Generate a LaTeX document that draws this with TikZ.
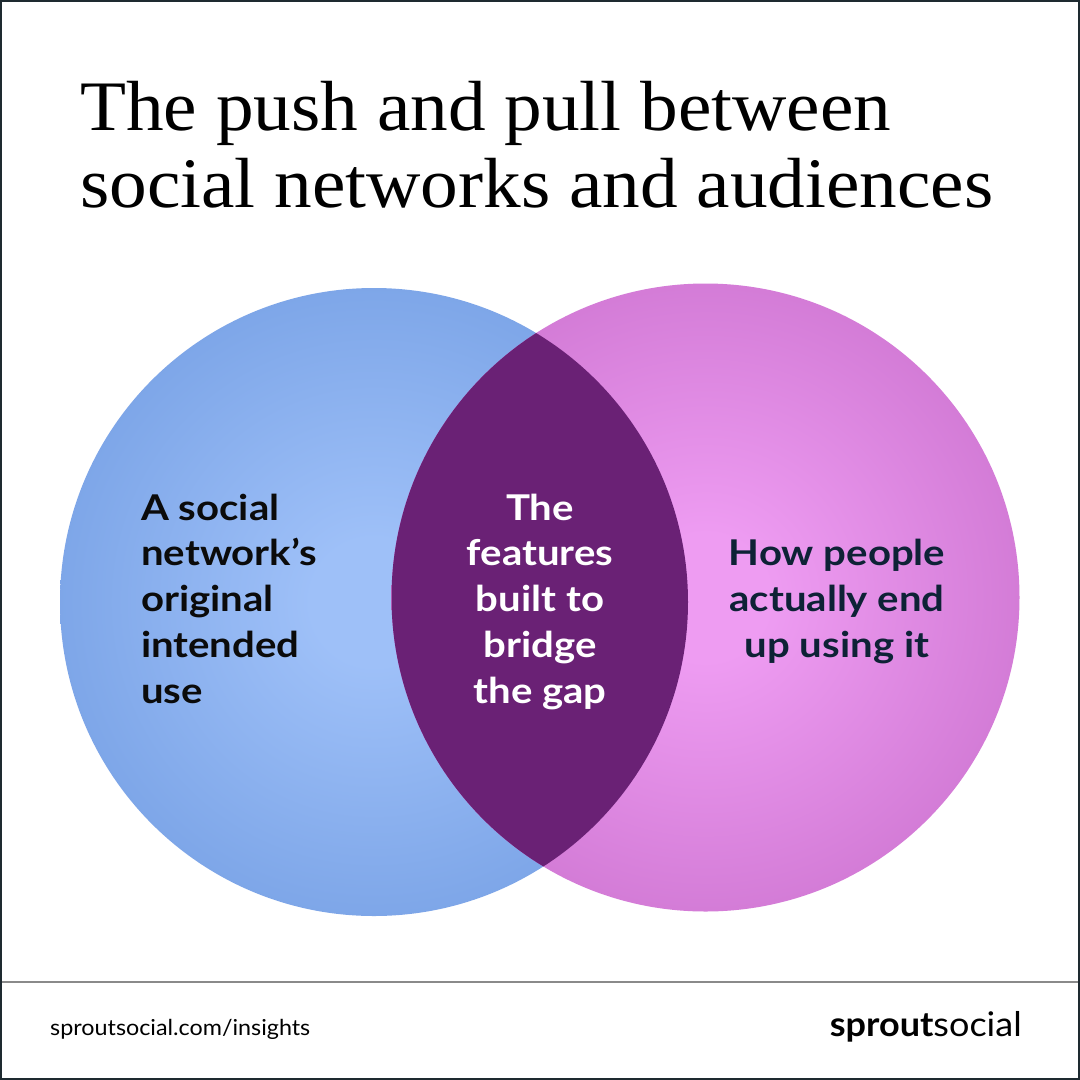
\documentclass[tikz,border=0pt]{standalone}
\usepackage{fontspec}
\setmainfont{Liberation Serif}
\newfontfamily\bodyf{Lato}
\definecolor{framec}{HTML}{1E2A30}
\definecolor{sepc}{HTML}{8A8A8A}
\definecolor{bluein}{HTML}{9EC0F8}
\definecolor{blueout}{HTML}{719CE2}
\definecolor{pinkin}{HTML}{EE9CF2}
\definecolor{pinkout}{HTML}{C96FCC}
\definecolor{midc}{HTML}{6A2175}
\definecolor{darktxt}{HTML}{0B0B0B}
\definecolor{navytxt}{HTML}{0E2236}
\pgfdeclareradialshading{blueball}{\pgfpoint{0bp}{0bp}}{color(0bp)=(bluein); color(5bp)=(bluein); color(33bp)=(blueout); color(100bp)=(blueout)}
\pgfdeclareradialshading{pinkball}{\pgfpoint{0bp}{0bp}}{color(0bp)=(pinkin); color(5bp)=(pinkin); color(33bp)=(pinkout); color(100bp)=(pinkout)}
\tikzset{
  titletxt/.style={font=\fontsize{71}{77}\selectfont, anchor=base west, inner sep=0pt, xscale=1.06, transform shape},
  bodytxt/.style={font=\bodyf\bfseries\fontsize{35.5}{45.75}\selectfont, inner sep=0pt, xscale=1.13, transform shape},
  foot/.style={font=\bodyf\fontsize{22}{26}\selectfont, anchor=base west, inner sep=0pt, text=black, xscale=1.06, transform shape}
}
\begin{document}
\begin{tikzpicture}[x=1pt,y=-1pt]
\useasboundingbox (0,0) rectangle (1080,1080);
\fill[white] (0,0) rectangle (1080,1080);
\coordinate (L) at (374,602);
\coordinate (R) at (705.5,597.5);
% title
\node[titletxt] (t1) at (80,130) {The push and pull between};
\node[titletxt] (t2) at (80,207) {social networks and audiences};
% circles
\shade[shading=blueball] (L) circle (314pt);
\shade[shading=pinkball] (R) circle (314pt);
\begin{scope}
  \clip (L) circle (314pt);
  \fill[midc] (R) circle (314pt);
\end{scope}
% texts
\node[bodytxt, text=darktxt, align=left, anchor=base west] (ltext) at (141,703) {A social\\network’s\\original\\intended\\use};
\node[bodytxt, text=white, align=center, anchor=base] (mtext) at (540,703) {The\\features\\built to\\bridge\\the gap};
\node[bodytxt, text=navytxt, align=center, anchor=base] (rtext) at (837,657) {How people\\actually end\\up using it};
% footer
\draw[sepc, line width=1.5pt] (0,982) -- (1080,982);
\node[foot] (url) at (50,1035) {sproutsocial.com/insights};
\node[foot, anchor=base east, font=\bodyf\fontsize{34}{36}\selectfont] (logo) at (1022,1036) {{\bfseries sprout}social};
% frame
\draw[framec, line width=2pt] (1,1) rectangle (1079,1079);
\end{tikzpicture}
\end{document}
